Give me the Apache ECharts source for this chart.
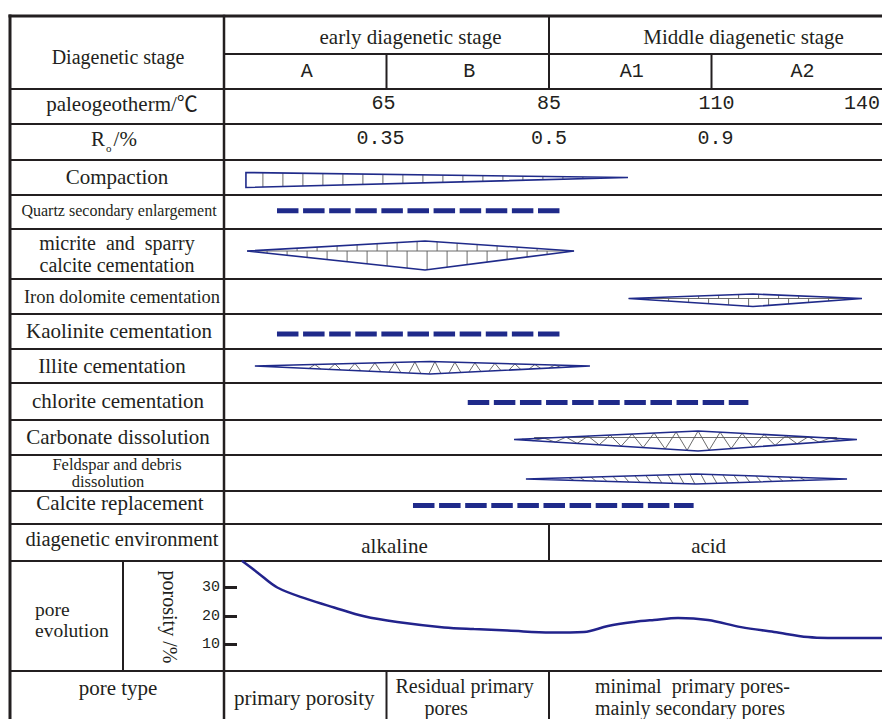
<!DOCTYPE html>
<html><head><meta charset="utf-8">
<script src="https://cdn.jsdelivr.net/npm/echarts@6/dist/echarts.min.js"></script>
<style>html,body{margin:0;padding:0;background:#fff}#c{width:882px;height:719px}</style>
</head><body><div id="c"></div>
<script>
// ===================== DATA =====================
// x values are stage positions: 0 = start of early stage A, 1 = A/B boundary (65 °C),
// 2 = early/middle boundary (85 °C), 3 = A1/A2 boundary (110 °C), 4 = 140 °C
const stageGroups = ['early diagenetic stage', 'Middle diagenetic stage'];
const subStages = ['A', 'B', 'A1', 'A2'];
const paleoTempTicks = ['65', '85', '110', '140'];
const roTicks = ['0.35', '0.5', '0.9'];
const processes = [
  'Compaction',
  'Quartz secondary enlargement',
  'micrite  and  sparry\ncalcite cementation',
  'Iron dolomite cementation',
  'Kaolinite cementation',
  'Illite cementation',
  'chlorite cementation',
  'Carbonate dissolution',
  'Feldspar and debris\ndissolution',
  'Calcite replacement'
];
// lens bodies: [process index, start, peak, end, upper thickness, lower thickness, pattern]
const lensBodies = [
  [0, 0.135, 0.135, 2.486, 5, 10, 'column'],
  [2, 0.142, 1.237, 2.154, 10, 19, 'brick'],
  [3, 2.490, 3.255, 3.926, 4.5, 8, 'brick'],
  [5, 0.190, 1.268, 2.252, 4.5, 8, 'triangle'],
  [7, 1.785, 2.917, 3.895, 8.5, 11.5, 'mesh'],
  [8, 1.858, 2.905, 3.834, 5, 5, 'hatch']
];
// dashed occurrences: [process index, start, end]
const dashedRanges = [
  [1, 0.326, 2.068],
  [4, 0.326, 2.070],
  [6, 1.500, 3.227],
  [9, 1.163, 2.890]
];
const environments = ['alkaline', 'acid'];
const poreTypes = [['primary porosity'], ['Residual primary', 'pores'], ['minimal  primary pores-', 'mainly secondary pores']];
// porosity evolution curve
const porosityStage = [0.11, 0.205, 0.328, 0.513, 0.677, 0.862, 1.066, 1.354, 1.538, 1.748, 2.012, 2.215, 2.363, 2.523, 2.646, 2.794, 2.978, 3.182, 3.385, 3.594, 3.717, 4.049, 4.1];
const porosityValue = [39.4, 35.3, 30.0, 25.9, 23.0, 19.9, 17.9, 16.0, 15.4, 14.9, 14.2, 14.4, 16.5, 17.9, 18.6, 19.3, 18.6, 16.1, 14.4, 12.6, 12.3, 12.3, 12.3];
const porosityTicks = [10, 20, 30];

// ===================== LAYOUT / STYLE =====================
const INK = '#231f20', BLUE = '#1f2a8a', CURVE = '#22238c', PAT = '#5a5a5a';
const STAGE_PX = 162.5;
const TABLE_LEFT = 10, COL_X = 224, TABLE_TOP = 16, TABLE_H = 703;
const LABEL_UNITS = (COL_X - TABLE_LEFT) / STAGE_PX;
const X_MAX = 4.1;
const HEADER_SPLIT = 38, HEADER_END = 73, PALEO_END = 108, RO_END = 144;
const PROC_EDGES = [144, 179, 213, 263, 298, 333, 367, 404, 439, 475, 508];
const ENV_END = 545, PORE_END = 655;
const POREVOL_SPLIT = (123 - COL_X) / STAGE_PX;
const POR_H = 112, POR_PER_UNIT = 2.85;
const px = v => v / STAGE_PX;
const LEFT_CENTER = -LABEL_UNITS / 2;
const procCenter = i => (PROC_EDGES[i] + PROC_EDGES[i + 1]) / 2;
const LENS_NUDGE = {0: 0, 2: -3, 3: 2, 5: 0, 7: 2, 8: 6};
const DASH_NUDGE = {1: -1.3, 4: 2.5, 6: 1, 9: -2};
const SERIF = '"Liberation Serif", "Noto Sans CJK SC", serif';
const MONO = '"Liberation Mono", monospace';
const f = (size, fam) => size + 'px ' + (fam || SERIF);

// ---- table rules ----
const rules = [];
const full = (y, w) => rules.push([-LABEL_UNITS, y, X_MAX, y, w]);
full(0, 3);
[HEADER_END, PALEO_END].concat(PROC_EDGES, [ENV_END, PORE_END]).forEach(y => full(y, 2));
rules.push([0, HEADER_SPLIT, X_MAX, HEADER_SPLIT, 2]);
rules.push([-LABEL_UNITS, 0, -LABEL_UNITS, TABLE_H, 3]);
rules.push([0, 0, 0, TABLE_H, 2.5]);
rules.push([2, 0, 2, HEADER_END, 2]);
rules.push([1, HEADER_SPLIT, 1, HEADER_END, 2]);
rules.push([3, HEADER_SPLIT, 3, HEADER_END, 2]);
rules.push([2, PROC_EDGES[10], 2, ENV_END, 2]);
rules.push([POREVOL_SPLIT, ENV_END, POREVOL_SPLIT, PORE_END, 2]);
rules.push([1, PORE_END, 1, TABLE_H, 2]);
rules.push([2, PORE_END, 2, TABLE_H, 2]);

// ---- text labels ----
const labels = [];
const add = (x, y, text, font, align, extra) => labels.push(Object.assign({x, y, text, font, align: align || 'center'}, extra || {}));
add(LEFT_CENTER + px(1), HEADER_END / 2 + 4.5, 'Diagenetic stage', f(20));
const groupCells = [[0, 2], [2, X_MAX]];
stageGroups.forEach((t, i) => add((groupCells[i][0] + groupCells[i][1]) / 2 + px(24), HEADER_SPLIT / 2 + 1.5, t, f(21)));
const subCells = [[0, 1], [1, 2], [2, 3], [3, X_MAX]];
subStages.forEach((t, i) => add((subCells[i][0] + subCells[i][1]) / 2 + px(1.5), (HEADER_SPLIT + HEADER_END) / 2, t, f(20, MONO)));
add(LEFT_CENTER + px(5), (HEADER_END + PALEO_END) / 2 - 3, 'paleogeotherm/℃', f(21));
const paleoNudge = [-3, 0, 5, -12];
paleoTempTicks.forEach((t, i) => add(i + 1 + px(paleoNudge[i]), (HEADER_END + PALEO_END) / 2 - 3, t, f(20, MONO)));
add(LEFT_CENTER - px(3), (PALEO_END + RO_END) / 2 - 3, '{r|R}{s|o}{r|/%}', f(21), 'center', {
  rich: {
    r: {fontSize: 21, fontFamily: SERIF, fill: INK, lineHeight: 28},
    s: {fontSize: 11, fontFamily: SERIF, fill: INK, lineHeight: 12, verticalAlign: 'bottom', padding: [0, 2, 0, 1]}
  }
});
const roNudge = [-6, 0, 4];
roTicks.forEach((t, i) => add(i + 1 + px(roNudge[i]), (PALEO_END + RO_END) / 2 - 3.5, t, f(20, MONO)));
const procFont = [f(21), f(16), f(20), f(18.5), f(21), f(21), f(21), f(21), f(16.5), f(21)];
const procNudge = [-1, -1.5, 0, 0, -0.5, 0, -0.5, -1, 0, -5];
const procXNudge = [0, 2, 0, 5, 2, -5, 1, 1, 0, 3];
processes.forEach((t, i) => {
  const lines = t.split('\n');
  const cy = procCenter(i) + procNudge[i];
  const lh = i === 8 ? 17.5 : 21.8;
  lines.forEach((ln, k) => {
    const xn = (i === 8 && k === 1) ? -9 : procXNudge[i];
    add(LEFT_CENTER + px(xn), cy + (k - (lines.length - 1) / 2) * lh, ln, procFont[i]);
  });
});
add(LEFT_CENTER + px(5), (PROC_EDGES[10] + ENV_END) / 2 - 4, 'diagenetic environment', f(20.5));
const envNudge = [8, -11];
environments.forEach((t, i) => add((groupCells[i][0] + groupCells[i][1]) / 2 + px(envNudge[i]), (PROC_EDGES[10] + ENV_END) / 2 + 3, t, f(21)));
add(-LABEL_UNITS + px(25), (ENV_END + PORE_END) / 2 - 6.5, 'pore', f(19.5), 'left');
add(-LABEL_UNITS + px(25), (ENV_END + PORE_END) / 2 + 14.5, 'evolution', f(19.5), 'left');
add(LEFT_CENTER + px(1), PORE_END + 17, 'pore type', f(21));
add(0.5 + px(-1), PORE_END + 26.5, poreTypes[0][0], f(21));
add(1 + px(9), PORE_END + 14.7, poreTypes[1][0], f(20), 'left');
add(1 + px(38), PORE_END + 36.5, poreTypes[1][1], f(20), 'left');
add(2 + px(46), PORE_END + 14.7, poreTypes[2][0], f(20), 'left');
add(2 + px(46), PORE_END + 36.5, poreTypes[2][1], f(20), 'left');

// ===================== RENDERERS =====================
function ruleRender(params, api) {
  const r = rules[params.dataIndex];
  const a = api.coord([r[0], r[1]]), b = api.coord([r[2], r[3]]);
  return {type: 'line', shape: {x1: a[0], y1: a[1], x2: b[0], y2: b[1]}, style: {stroke: INK, lineWidth: r[4], lineCap: 'square'}};
}
function lensRender(params, api) {
  const d = lensBodies[params.dataIndex];
  const pi = d[0], s = d[1], pk = d[2], e = d[3], up = d[4], dn = d[5], pattern = d[6];
  const cy = procCenter(pi) + (LENS_NUDGE[pi] || 0);
  const L = api.coord([s, cy]), T = api.coord([pk, cy - up]), R = api.coord([e, cy]), B = api.coord([pk, cy + dn]);
  const mid = L[1];
  const lerp = (a, b, x) => a[1] + (b[1] - a[1]) * (x - a[0]) / ((b[0] - a[0]) || 1);
  const topAt = x => x <= T[0] ? (T[0] === L[0] ? T[1] : lerp(L, T, x)) : lerp(T, R, x);
  const botAt = x => x <= B[0] ? (B[0] === L[0] ? B[1] : lerp(L, B, x)) : lerp(B, R, x);
  let path = '';
  const n = v => v.toFixed(1);
  const seg = (x1, y1, x2, y2) => { path += 'M' + n(x1) + ' ' + n(y1) + 'L' + n(x2) + ' ' + n(y2); };
  if (pattern === 'column') {
    for (let x = L[0] + 17; x < R[0] - 4; x += 20) { const t = topAt(x), b = botAt(x); if (b - t > 1.5) seg(x, t, x, b); }
  } else if (pattern === 'brick') {
    seg(L[0], mid, R[0], mid);
    for (let x = L[0] + 10; x < R[0]; x += 20) { const t = topAt(x); if (mid - t > 2) seg(x, t, x, mid); }
    for (let x = L[0] + 20; x < R[0]; x += 20) { const b = botAt(x); if (b - mid > 2) seg(x, mid, x, b); }
  } else if (pattern === 'triangle') {
    for (let x = L[0] + 14; x + 12 < R[0]; x += 20) {
      const t = topAt(x + 6), b1 = botAt(x), b2 = botAt(x + 12);
      if (b1 - t > 3) path += 'M' + n(x) + ' ' + n(b1) + 'L' + n(x + 6) + ' ' + n(t) + 'L' + n(x + 12) + ' ' + n(b2);
    }
  } else if (pattern === 'mesh') {
    seg(L[0] + 20, mid - 2, R[0] - 20, mid - 2);
    let upSide = true, started = false;
    for (let x = L[0] + 8; x < R[0] - 8; x += 11) {
      const y = upSide ? topAt(x) : botAt(x);
      path += (started ? 'L' : 'M') + n(x) + ' ' + n(y);
      started = true; upSide = !upSide;
    }
  } else if (pattern === 'hatch') {
    for (let x = L[0] + 10; x + 11 < R[0]; x += 11) { const t = topAt(x), b = botAt(x + 5); if (b - t > 2.5) seg(x, t, x + 5, b); }
  }
  return {type: 'group', children: [
    {type: 'path', shape: {pathData: path || 'M0 0'}, style: {stroke: PAT, lineWidth: 0.9, fill: 'none'}},
    {type: 'polygon', shape: {points: [L, T, R, B]}, style: {stroke: BLUE, lineWidth: 1.6, fill: 'none', lineJoin: 'miter'}}
  ]};
}
function labelRender(params, api) {
  const l = labels[params.dataIndex];
  const p = api.coord([l.x, l.y]);
  const style = {text: l.text, font: l.font, fill: INK, align: l.align, verticalAlign: 'middle'};
  if (l.rich) style.rich = l.rich;
  return {type: 'text', x: p[0], y: p[1], style: style};
}

// ===================== CHART =====================
const chart = echarts.init(document.getElementById('c'), null, {renderer: 'svg'});
const dashSeries = dashedRanges.map(r => {
  const y = procCenter(r[0]) + (DASH_NUDGE[r[0]] || 0);
  return {
    type: 'line', xAxisIndex: 0, yAxisIndex: 0, data: [[r[1], y], [r[2], y]],
    symbol: 'none', silent: true, animation: false,
    lineStyle: {color: BLUE, width: 5, type: [21.5, 4.6], cap: 'butt'}
  };
});
chart.setOption({
  animation: false,
  backgroundColor: '#fff',
  grid: [
    {left: TABLE_LEFT, top: TABLE_TOP, width: (LABEL_UNITS + X_MAX) * STAGE_PX, height: TABLE_H, outerBoundsMode: 'none', containLabel: false},
    {left: COL_X, top: TABLE_TOP + ENV_END, width: X_MAX * STAGE_PX, height: POR_H, outerBoundsMode: 'none', containLabel: false}
  ],
  xAxis: [
    {gridIndex: 0, type: 'value', min: -LABEL_UNITS, max: X_MAX, show: false},
    {gridIndex: 1, type: 'value', min: 0, max: X_MAX, show: false}
  ],
  yAxis: [
    {gridIndex: 0, type: 'value', min: 0, max: TABLE_H, inverse: true, show: false},
    {
      gridIndex: 1, type: 'value', min: 0, max: POR_H / POR_PER_UNIT, interval: 10, position: 'left',
      axisLine: {show: false}, splitLine: {show: false},
      axisTick: {show: true, inside: true, length: 13, lineStyle: {color: INK, width: 3}, customValues: porosityTicks},
      axisLabel: {show: true, color: INK, fontFamily: 'Liberation Mono', fontSize: 15, margin: 4, customValues: porosityTicks,
        formatter: v => porosityTicks.indexOf(v) >= 0 ? String(v) : ''},
      name: 'porosity /%', nameLocation: 'middle', nameRotate: -90, nameGap: 44,
      nameTextStyle: {color: INK, fontFamily: 'Liberation Serif', fontSize: 20}
    }
  ],
  series: [
    {type: 'custom', name: 'table', xAxisIndex: 0, yAxisIndex: 0, silent: true, renderItem: ruleRender,
      data: rules.map(r => [r[0], r[1], r[2], r[3]]), encode: {x: [0, 2], y: [1, 3]}},
    {type: 'custom', name: 'processes', xAxisIndex: 0, yAxisIndex: 0, silent: true, renderItem: lensRender,
      data: lensBodies.map(d => [d[1], procCenter(d[0]), d[3]]), encode: {x: [0, 2], y: 1}},
    ...dashSeries,
    {type: 'custom', name: 'labels', xAxisIndex: 0, yAxisIndex: 0, silent: true, renderItem: labelRender,
      data: labels.map(l => [l.x, l.y]), encode: {x: 0, y: 1}},
    {type: 'line', name: 'porosity', xAxisIndex: 1, yAxisIndex: 1, symbol: 'none', smooth: 0.35, clip: true,
      data: porosityStage.map((x, i) => [x, porosityValue[i]]), lineStyle: {color: CURVE, width: 2.5}}
  ]
});
</script>
</body></html>
